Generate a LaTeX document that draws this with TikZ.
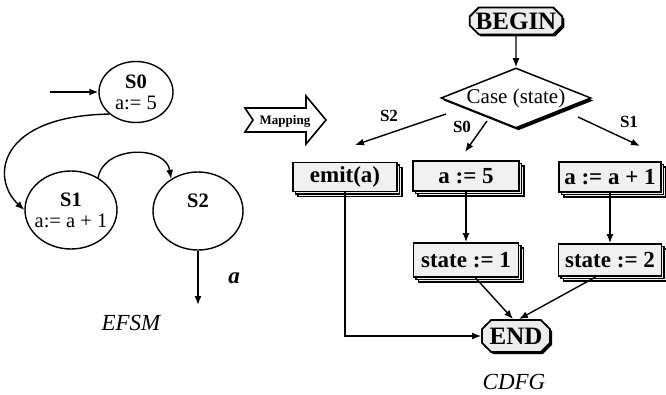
\documentclass[tikz,border=0pt]{standalone}
\usepackage{fontspec}
\setmainfont{Liberation Serif}
\usetikzlibrary{shapes.geometric,shapes.misc,arrows.meta,shadows}
\begin{document}
\begin{tikzpicture}[x=1pt,y=-1pt,
  arr/.style={-{Latex[length=9pt,width=7pt]}, line width=1.4pt},
  st/.style={draw, ellipse, line width=1.4pt, inner sep=0pt, align=center, font=\fontsize{20.5}{21}\selectfont},
  blk/.style={draw, line width=1.8pt, fill=gray!12, inner sep=0pt, font=\bfseries\fontsize{23}{24}\selectfont,
    double copy shadow={shadow xshift=2.5pt, shadow yshift=-2.5pt, draw=black, line width=1.1pt, fill=gray!12}},
  term/.style={draw, chamfered rectangle, chamfered rectangle xsep=6pt, line width=1.8pt, fill=gray!15, inner sep=0pt,
    font=\bfseries\fontsize{25}{26}\selectfont, drop shadow={shadow xshift=2pt, shadow yshift=-2pt, fill=black, opacity=1}},
  lbl/.style={font=\bfseries\fontsize{17}{18}\selectfont},
  ttl/.style={font=\itshape\fontsize{23}{24}\selectfont},
]
\useasboundingbox (0,0) rectangle (666,395);

% ---------- EFSM ----------
\node[st, minimum width=74pt, minimum height=61pt] (s0) at (136,92) {\textbf{S0}\\a:= 5};
\node[st, inner xsep=-4pt, minimum width=92pt, minimum height=78pt] (s1) at (71,210) {\textbf{S1}\\a:= a + 1};
\node[st, minimum width=90pt, minimum height=78pt] (s2) at (198,211) {\textbf{S2}\\\phantom{1}};
\coordinate (in0) at (50,92);
\coordinate (out2) at (198,305);
\draw[arr] (in0) -- (s0);
\draw[arr] (s0.south west) .. controls (-2,116) and (-10,178) .. (s1.west);
\draw[arr] (s1.50) .. controls (104,145) and (166,145) .. (s2.130);
\draw[arr] (s2.south) -- (out2);
\node[font=\bfseries\itshape\fontsize{23}{24}\selectfont] (alab) at (234,278) {a};
\node[ttl] (efsm) at (131,323) {EFSM};

% ---------- Mapping arrow ----------
\draw[line width=1.6pt, line join=miter] (245,108) -- (306,108) -- (306,96) -- (326,120) -- (306,144) -- (306,132) -- (245,132) -- (253,120) -- cycle;
\node[font=\bfseries\fontsize{13}{14}\selectfont] (map) at (285,121) {Mapping};

% ---------- CDFG ----------
\node[term, minimum width=92pt, minimum height=27pt] (begin) at (516,21) {BEGIN};
\node[draw, diamond, line width=1.5pt, fill=white, minimum width=150pt, minimum height=60pt, inner sep=0pt, aspect=2.5,
  font=\fontsize{21}{22}\selectfont, drop shadow={shadow xshift=2.5pt, shadow yshift=-2.5pt, fill=black, opacity=1}] (dia) at (516,98) {Case (state)};
\node[blk, minimum width=104pt, minimum height=29pt] (emit) at (345,177) {emit(a)};
\node[blk, minimum width=106pt, minimum height=30pt] (a5) at (466,176) {a := 5};
\node[blk, minimum width=102pt, minimum height=30pt] (a1) at (610,177) {a := a + 1};
\node[blk, minimum width=105pt, minimum height=34pt] (st1) at (466,260) {state := 1};
\node[blk, minimum width=103pt, minimum height=32pt] (st2) at (610,260) {state := 2};
\node[term, minimum width=68pt, minimum height=32pt] (end) at (516,336) {END};

\draw[arr] (begin) -- (dia);
\coordinate (b2s) at (446,114); \coordinate (b2e) at (355,145);
\coordinate (b0s) at (487,121); \coordinate (b0e) at (465,152);
\coordinate (b1s) at (578,117); \coordinate (b1e) at (640,146);
\draw[arr] (b2s) -- (b2e);
\draw[arr] (b0s) -- (b0e);
\draw[arr] (b1s) -- (b1e);
\node[lbl] (l2) at (389,116) {S2};
\node[lbl] (l0) at (462,127) {S0};
\node[lbl] (l1) at (629,122) {S1};

\draw[arr] (a5) -- (st1);
\draw[arr] (a1) -- (st2);
\draw[arr] (emit.south) |- (end.west);
\draw[arr] (st1.-62) -- (end.100);
\draw[arr] (st2.-130) -- (end.80);
\node[ttl] (cdfg) at (514,382) {CDFG};
\end{tikzpicture}
\end{document}
